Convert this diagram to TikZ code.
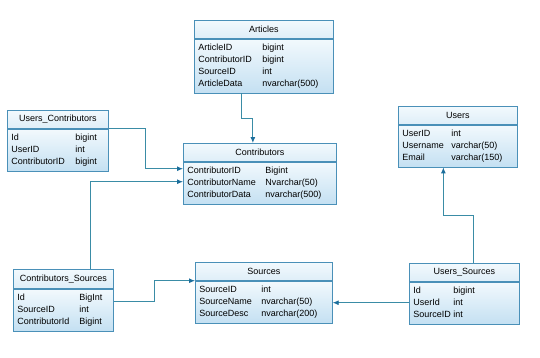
\documentclass[tikz,border=0pt]{standalone}
\usepackage{fontspec}
\setmainfont{Liberation Sans}
\usetikzlibrary{arrows.meta,calc,positioning}
\definecolor{tblline}{HTML}{4A90B8}
\definecolor{tbltop}{HTML}{F2F9FD}
\definecolor{tblbot}{HTML}{C4E0F2}
\definecolor{linkcol}{HTML}{3A8CA6}
\definecolor{tipcol}{HTML}{1C6E9C}

\begin{document}
\begin{tikzpicture}[x=1pt,y=-1pt,
  tblhead/.style={draw=tblline,line width=0.7pt,top color=tbltop,bottom color=tblbot!55,
    anchor=north west,minimum height=18pt,inner sep=0pt,font=\fontsize{9}{12}\selectfont},
  tblbody/.style={draw=tblline,line width=0.7pt,top color=tbltop,bottom color=tblbot,
    anchor=north west,inner xsep=4pt,inner ysep=3pt,align=left,font=\fontsize{9}{12}\selectfont},
  link/.style={draw=linkcol,line width=0.9pt,-{Latex[length=6pt,width=5pt,color=tipcol]}}]
  \useasboundingbox (0,0) rectangle (540,357);
  % tables
  \node[tblhead,minimum width=139pt] (art) at (194,20) {Articles};
  \node[tblbody,text width=131pt] (artb) at (art.south west) {\begin{tabular}{@{}p{64pt}@{}l@{}}
    ArticleID & bigint\\ ContributorID & bigint\\ SourceID & int\\ ArticleData & nvarchar(500)\end{tabular}};
  \node[tblhead,minimum width=101pt] (uc) at (7,110) {Users\_Contributors};
  \node[tblbody,text width=93pt] (ucb) at (uc.south west) {\begin{tabular}{@{}p{64pt}@{}l@{}}
    Id & bigint\\ UserID & int\\ ContributorID & bigint\end{tabular}};
  \node[tblhead,minimum width=153pt] (cont) at (183,143) {Contributors};
  \node[tblbody,text width=145pt] (contb) at (cont.south west) {\begin{tabular}{@{}p{78pt}@{}l@{}}
    ContributorID & Bigint\\ ContributorName & Nvarchar(50)\\ ContributorData & nvarchar(500)\end{tabular}};
  \node[tblhead,minimum width=119pt] (usr) at (398,106) {Users};
  \node[tblbody,text width=111pt] (usrb) at (usr.south west) {\begin{tabular}{@{}p{49pt}@{}l@{}}
    UserID & int\\ Username & varchar(50)\\ Email & varchar(150)\end{tabular}};
  \node[tblhead,minimum width=100pt,minimum height=19pt] (cs) at (13,269) {Contributors\_Sources};
  \node[tblbody,text width=92pt] (csb) at (cs.south west) {\begin{tabular}{@{}p{62pt}@{}l@{}}
    Id & BigInt\\ SourceID & int\\ ContributorId & Bigint\end{tabular}};
  \node[tblhead,minimum width=137pt] (src) at (195,262) {Sources};
  \node[tblbody,text width=129pt] (srcb) at (src.south west) {\begin{tabular}{@{}p{62pt}@{}l@{}}
    SourceID & int\\ SourceName & nvarchar(50)\\ SourceDesc & nvarchar(200)\end{tabular}};
  \node[tblhead,minimum width=110pt] (us) at (409,263) {Users\_Sources};
  \node[tblbody,text width=102pt] (usb) at (us.south west) {\begin{tabular}{@{}p{40pt}@{}l@{}}
    Id & bigint\\ UserId & int\\ SourceID & int\end{tabular}};
  % links
  \draw[link] ([xshift=-22pt]artb.south) -- ++(0,25) -| ([xshift=-7pt]cont.north);
  \draw[link] (uc.south east) -- ++(37,0) |- ([yshift=-7pt]contb.north west);
  \draw[link] ([xshift=27pt]cs.north) |- ([yshift=-20pt]contb.north west);
  \draw[link] ([yshift=-13pt]csb.north east) -- ++(41,0) |- (srcb.north west);
  \draw[link] ([yshift=-21pt]usb.north west) -- ([yshift=-21pt]usb.north west -| srcb.east);
  \draw[link] ([xshift=9pt]us.north) -- ++(0,-48) -| ([xshift=-14.5pt]usrb.south);
\end{tikzpicture}
\end{document}
